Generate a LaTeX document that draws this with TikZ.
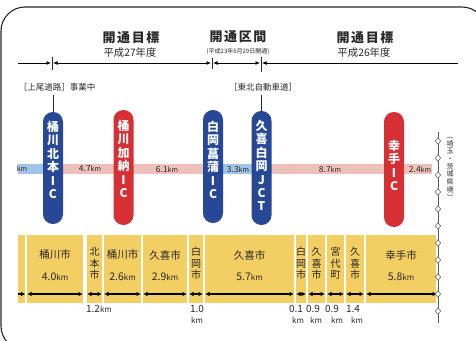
\documentclass[tikz,border=0pt]{standalone}
\usepackage{fontspec}
\setmainfont{Noto Sans CJK JP}
\newfontfamily\headfont[LetterSpace=12]{Noto Sans CJK JP}
\usetikzlibrary{arrows.meta,shapes.geometric}
\definecolor{icblue}{RGB}{38,72,150}
\definecolor{icred}{RGB}{214,48,52}
\definecolor{bandblue}{RGB}{160,196,232}
\definecolor{bandpink}{RGB}{238,192,186}
\definecolor{segyellow}{RGB}{243,206,98}
\definecolor{txt}{RGB}{40,40,40}
\newcommand\kmu{{\fontsize{7}{7}\selectfont km}}
\newcommand\kmb{{\fontsize{8}{8}\selectfont km}}
\begin{document}
\begin{tikzpicture}[x=1pt,y=-1pt,
  pill/.style={rectangle, rounded corners=9.9pt, minimum width=20pt, inner sep=0pt},
  pilltxt/.style={anchor=north, align=center, text=white, inner sep=0pt, font=\bfseries\fontsize{12}{13.4}\selectfont},
  headtxt/.style={text=txt, inner sep=0pt, font=\headfont\bfseries\fontsize{13}{13}\selectfont},
  subtxt/.style={text=txt, inner sep=0pt, font=\fontsize{10.3}{10.3}\selectfont},
  tinytxt/.style={text=txt, inner sep=0pt, font=\fontsize{6}{6}\selectfont},
  roadtxt/.style={text=txt, inner sep=0pt, font=\fontsize{8.5}{8.5}\selectfont},
  bandtxt/.style={text=txt, inner sep=0pt, font=\fontsize{8.5}{8.5}\selectfont},
  segtxt/.style={text=txt, inner sep=0pt, font=\fontsize{10.5}{10.5}\selectfont},
  vsegtxt/.style={text=txt, inner sep=0pt, align=center, font=\fontsize{10}{11.5}\selectfont},
  lentxt/.style={text=txt, inner sep=0pt, font=\fontsize{10}{10}\selectfont},
  arr/.style={line width=1pt, draw=black},
  tip/.style={-{Latex[length=4.5pt,width=4pt]}},
  dtip/.style={{Latex[length=4.5pt,width=4pt]}-{Latex[length=4.5pt,width=4pt]}},
  stip/.style={{Latex[length=4.5pt,width=4pt]}-},
  dim/.style={line width=1.2pt, draw=black, {Latex[length=4.5pt,width=4.5pt]}-{Latex[length=4.5pt,width=4.5pt]}},
  tick/.style={line width=0.9pt, draw=txt},
  border/.style={diamond, draw=gray!80!black, fill=white, line width=0.6pt, minimum width=5.5pt, minimum height=7pt, inner sep=0pt}
]
\useasboundingbox (0,0) rectangle (476,340);
% outer frame
\draw[line width=1.1pt, draw=black!85, rounded corners=24pt] (1,7) rectangle (486,350);

% headers
\node[headtxt] (h1) at (131,37.5) {開通目標};
\node[subtxt] (h1s) at (130,52.5) {平成27年度};
\node[headtxt] (h2) at (238,37) {開通区間};
\node[tinytxt] (h2s) at (238,52) {(平成23年5月29日開通)};
\node[headtxt] (h3) at (365,37.5) {開通目標};
\node[subtxt] (h3s) at (364,52.5) {平成26年度};

% header arrow line
\coordinate (a0) at (18,63);
\coordinate (t1) at (52,63);
\coordinate (t2) at (212,63);
\coordinate (t3) at (261,63);
\coordinate (a4) at (458,63);
\draw[tick] (52,57) -- (52,70);
\draw[tick] (212,58) -- (212,69);
\draw[tick] (261,57) -- (261,72);
\draw[arr,tip,shorten >=1pt] (a0) -- (t1);
\draw[arr,dtip,shorten >=1pt,shorten <=1pt] (t1) -- (t2);
\draw[arr,dtip,shorten >=1pt,shorten <=1pt] (t2) -- (t3);
\draw[arr,stip,shorten <=1pt] (t3) -- (a4);

% road labels
\node[roadtxt] (r1) at (57,87) {［上尾道路］事業中};
\node[roadtxt] (r2) at (263,87) {［東北自動車道］};

% band
\fill[bandblue] (18,164) rectangle (52,174);
\fill[bandpink] (52,164) rectangle (213,174);
\fill[bandblue] (213,164) rectangle (261,174);
\fill[bandpink] (261,164) rectangle (432,174);
\node[bandtxt] (bm) at (22,169) {\kmu};
\node[bandtxt] (b1) at (90,169) {4.7\kmu};
\node[bandtxt] (b2) at (167,169) {6.1\kmu};
\node[bandtxt] (b3) at (238,169) {3.3\kmu};
\node[bandtxt] (b4) at (330,169) {8.7\kmu};
\node[bandtxt] (b5) at (420,169) {2.4\kmu};

% pills
\node[pill, fill=icblue, minimum height=112pt] (ic1) at (53,168) {};
\node[pilltxt] (ic1t) at (53,121) {桶\\川\\北\\本\\I\\C};
\node[pill, fill=icred, minimum height=115pt] (ic2) at (123.5,167.5) {};
\node[pilltxt] (ic2t) at (123.5,120) {桶\\川\\加\\納\\I\\C};
\node[pill, fill=icblue, minimum height=113pt] (ic3) at (213,166.5) {};
\node[pilltxt] (ic3t) at (213,121) {白\\岡\\菖\\蒲\\I\\C};
\node[pill, fill=icblue, minimum height=114pt] (ic4) at (261.5,168) {};
\node[pilltxt] (ic4t) at (261.5,120) {久\\喜\\白\\岡\\J\\C\\T};
\node[pill, fill=icred, minimum height=115pt] (ic5) at (394,169.5) {};
\node[pilltxt] (ic5t) at (394,140) {幸\\手\\I\\C};

% connectors from labels to pills
\draw[tick] (r1.south -| ic1.north) ++(0,4) -- (ic1.north);
\draw[tick] (r2.south -| ic4.north) ++(0,4) -- (ic4.north);

% bottom segments
\fill[segyellow] (18,235) rectangle (25,303);
\fill[segyellow] (27,235) rectangle (83,303);
\fill[segyellow] (87,235) rectangle (102,303);
\fill[segyellow] (104,235) rectangle (141,303);
\fill[segyellow] (143,235) rectangle (187,303);
\fill[segyellow] (189,235) rectangle (203,303);
\fill[segyellow] (205,235) rectangle (294,303);
\fill[segyellow] (296,235) rectangle (306,303);
\fill[segyellow] (308,235) rectangle (325,303);
\fill[segyellow] (327,235) rectangle (344,303);
\fill[segyellow] (346,235) rectangle (364,303);
\fill[segyellow] (366,235) rectangle (436,303);

\node[segtxt] (s1) at (55,255) {桶川市};
\node[segtxt] (s1k) at (55,277) {4.0\kmb};
\node[vsegtxt] (s2) at (94.5,263.5) {北\\本\\市};
\node[segtxt] (s3) at (122.5,255) {桶川市};
\node[segtxt] (s3k) at (122.5,277) {2.6\kmb};
\node[segtxt] (s4) at (165,255) {久喜市};
\node[segtxt] (s4k) at (165,277) {2.9\kmb};
\node[vsegtxt] (s5) at (196,263.5) {白\\岡\\市};
\node[segtxt] (s6) at (249.5,255) {久喜市};
\node[segtxt] (s6k) at (249.5,277) {5.7\kmb};
\node[vsegtxt] (s7) at (301,263.5) {白\\岡\\市};
\node[vsegtxt] (s8) at (316.5,263.5) {久\\喜\\市};
\node[vsegtxt] (s9) at (335.5,263.5) {宮\\代\\町};
\node[vsegtxt] (s10) at (355,263.5) {久\\喜\\市};
\node[segtxt] (s11) at (401,255) {幸手市};
\node[segtxt] (s11k) at (401,277) {5.8\kmb};

% dimension arrows
\draw[line width=1.2pt, draw=black, -{Latex[length=4.5pt,width=4.5pt]}] (18,294) -- (25.5,294);
\draw[dim] (27,294) -- (83,294);
\draw[dim] (87,294) -- (102,294);
\draw[dim] (104,294) -- (141,294);
\draw[dim] (143,294) -- (187,294);
\draw[dim] (189,294) -- (203,294);
\draw[dim] (205,294) -- (294,294);
\draw[dim] (296,294) -- (306,294);
\draw[dim] (308,294) -- (325,294);
\draw[dim] (327,294) -- (344,294);
\draw[dim] (346,294) -- (364,294);
\draw[dim] (366,294) -- (437,294);

% lengths below
\node[lentxt] (l1) at (99,309) {1.2\kmb};
\node[lentxt] (l2) at (197,309) {1.0};
\node[lentxt] (l2k) at (197,320) {\kmb};
\node[lentxt] (l3) at (296,309) {0.1};
\node[lentxt] (l3k) at (298,320) {\kmb};
\node[lentxt] (l4) at (313,309) {0.9};
\node[lentxt] (l4k) at (316,320) {\kmb};
\node[lentxt] (l5) at (332,309) {0.9};
\node[lentxt] (l5k) at (337,320) {\kmb};
\node[lentxt] (l6) at (353,309) {1.4};
\node[lentxt] (l6k) at (357,320) {\kmb};

% prefecture border
\coordinate (pb1) at (438,132);
\coordinate (pb2) at (438,323);
\draw[line width=0.7pt, draw=gray!70!black] (pb1) -- (pb2);
\foreach \i in {0,...,10}
  \node[border] (d\i) at (438,141+17*\i) {};
\node[text=txt, inner sep=0pt, anchor=north, align=center, font=\fontsize{7}{7.7}\selectfont] (pbl) at (450,137) {︵\\埼\\玉\\・\\茨\\城\\県\\境\\︶};
\end{tikzpicture}
\end{document}
